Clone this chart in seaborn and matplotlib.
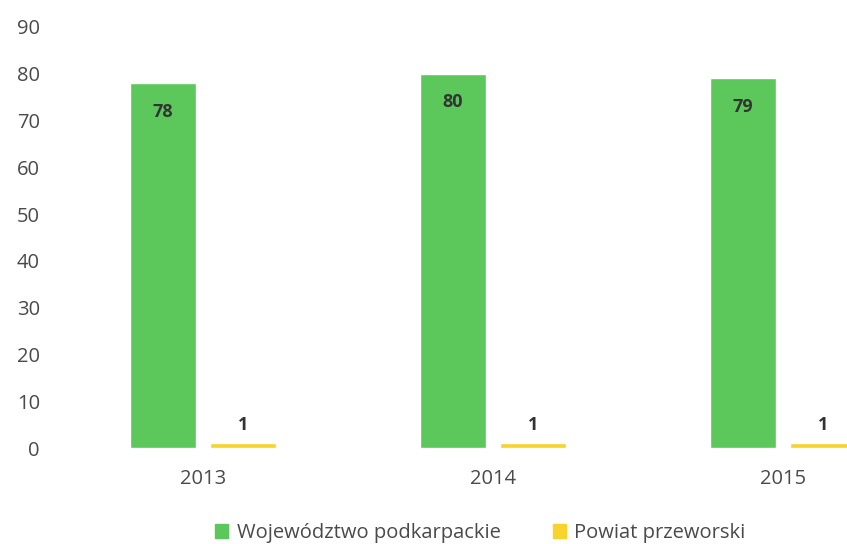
import pandas as pd
import seaborn as sns
import matplotlib.pyplot as plt
from matplotlib.patches import Patch

# data
years = ['2013', '2014', '2015']
series = ['Województwo podkarpackie', 'Powiat przeworski']
woj_values = [78, 80, 79]
pow_values = [1, 1, 1]
colors = ['#5cc85c', '#f8d32a']

df = pd.DataFrame({
    'year': years * 2,
    'value': woj_values + pow_values,
    'series': [series[0]] * 3 + [series[1]] * 3,
})

sns.set_style('white')
plt.rcParams['font.family'] = ['Open Sans', 'DejaVu Sans']

fig = plt.figure(figsize=(8.47, 5.44), dpi=100)
# axes run past the right edge, as in the cropped original
ax = fig.add_axes([58 / 847, 96 / 544, 870 / 847, 421 / 544])

sns.barplot(data=df, x='year', y='value', hue='series', palette=colors,
            width=0.555, gap=0.18, ax=ax, legend=False, saturation=1)

ax.set_ylim(0, 90)
ax.set_xlim(-0.5, 2.5)
ax.set_yticks(range(0, 91, 10))
ax.set_xlabel('')
ax.set_ylabel('')
for s in ax.spines.values():
    s.set_visible(False)
ax.tick_params(axis='y', length=0, pad=13, labelsize=14.5, labelcolor='#4a4a4a')
ax.tick_params(axis='x', length=0, pad=15, labelsize=14.5, labelcolor='#4a4a4a')

# data labels
ax.bar_label(ax.containers[0], padding=-27, fontsize=13, fontweight='bold', color='#333333')
ax.bar_label(ax.containers[1], padding=7, fontsize=13, fontweight='bold', color='#333333')

handles = [Patch(color=c, label=s) for c, s in zip(colors, series)]
fig.legend(handles=handles, loc='lower center', bbox_to_anchor=(0.567, -0.032),
           ncol=2, frameon=False, fontsize=14.5, handlelength=0.65, handleheight=0.65,
           handletextpad=0.4, columnspacing=2.6, labelcolor='#4a4a4a')

fig.savefig('out.png', dpi=100)
